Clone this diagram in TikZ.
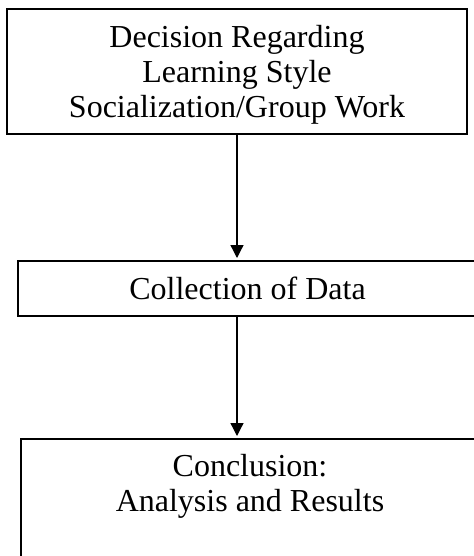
\documentclass[tikz,border=0pt]{standalone}
\usepackage{fontspec}
\setmainfont{Liberation Serif}
\usetikzlibrary{arrows.meta}
\tikzset{
  stagebox/.style={
    rectangle,
    draw=black,
    line width=1pt,
    align=center,
    inner sep=0pt,
    font=\fontsize{16}{17.5}\selectfont,
  },
  flow/.style={
    -{Triangle[length=6.5pt,width=6.5pt]},
    line width=0.65pt,
    shorten >=1pt,
  },
}

\begin{document}
\begin{tikzpicture}[x=0.5pt,y=-0.5pt]
  \useasboundingbox (0,0) rectangle (474,556);
  \clip (0,0) rectangle (474,556);

  % Three stages, top to bottom.
  \node[stagebox, anchor=north, minimum width=230pt, inner ysep=8pt, text depth=0.5pt] (decision) at (237,8)
    {Decision Regarding\\Learning Style\\Socialization/Group Work};
  \node[stagebox, minimum width=229.5pt, minimum height=27.5pt] (collect) at (247.5,288.5)
    {Collection of Data};
  \node[stagebox, anchor=north, minimum width=229pt, inner ysep=7.5pt, text depth=80pt] (concl) at (250,438)
    {Conclusion:\\Analysis and Results};

  % Arrows run straight down below the top box.
  \draw[flow] (decision.south) -- (decision.south |- collect.north);
  \draw[flow] (decision.south |- collect.south) -- (decision.south |- concl.north);
\end{tikzpicture}
\end{document}
